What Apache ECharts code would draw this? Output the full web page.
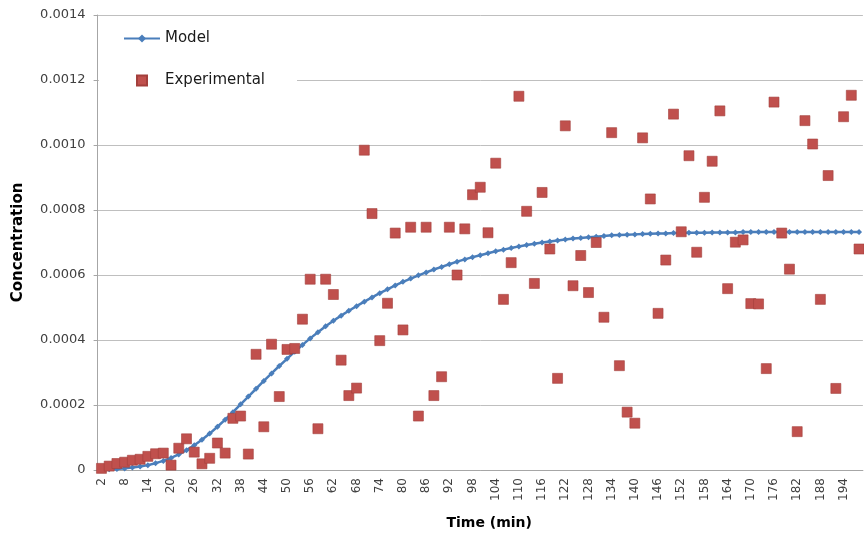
<!DOCTYPE html>
<html>
<head>
<meta charset="utf-8">
<script src="https://cdn.jsdelivr.net/npm/echarts@6/dist/echarts.min.js"></script>
<style>
  html, body { margin: 0; padding: 0; background: #ffffff; }
  #chart { width: 864px; height: 540px; }
</style>
</head>
<body>
<div id="chart"></div>
<script>
// Sampling times (min)
const timeMin = [
  2, 4, 6, 8, 10, 12, 14, 16, 18, 20, 22, 24, 26, 28, 30, 32, 34, 36, 38, 40,
  42, 44, 46, 48, 50, 52, 54, 56, 58, 60, 62, 64, 66, 68, 70, 72, 74, 76, 78, 80,
  82, 84, 86, 88, 90, 92, 94, 96, 98, 100, 102, 104, 106, 108, 110, 112, 114, 116, 118, 120,
  122, 124, 126, 128, 130, 132, 134, 136, 138, 140, 142, 144, 146, 148, 150, 152, 154, 156, 158, 160,
  162, 164, 166, 168, 170, 172, 174, 176, 178, 180, 182, 184, 186, 188, 190, 192, 194, 196, 198
];

// Fitted model concentration
const modelConc = [
  0.000001, 0.000002, 0.000003, 0.000005, 0.000008, 0.000011, 0.000015, 0.000021, 0.000028, 0.000037,
  0.000048, 0.000061, 0.000076, 0.000093, 0.000112, 0.000133, 0.000155, 0.000178, 0.000202, 0.000226,
  0.000250, 0.000274, 0.000297, 0.000320, 0.000342, 0.000364, 0.000385, 0.000405, 0.000424, 0.000442,
  0.000459, 0.000475, 0.000490, 0.000504, 0.000518, 0.000531, 0.000544, 0.000556, 0.000568, 0.000579,
  0.000589, 0.000599, 0.000608, 0.000617, 0.000625, 0.000633, 0.000641, 0.000648, 0.000655, 0.000661,
  0.000667, 0.000673, 0.000678, 0.000683, 0.000688, 0.000692, 0.000696, 0.000700, 0.000703, 0.000706,
  0.000709, 0.000712, 0.000714, 0.000716, 0.000718, 0.000720, 0.000722, 0.000723, 0.000724, 0.000725,
  0.000726, 0.000727, 0.000728, 0.000728, 0.000729, 0.000729, 0.000730, 0.000730, 0.000730, 0.000731,
  0.000731, 0.000731, 0.000731, 0.000732, 0.000732, 0.000732, 0.000732, 0.000732, 0.000732, 0.000732,
  0.000732, 0.000732, 0.000732, 0.000732, 0.000732, 0.000732, 0.000732, 0.000732, 0.000732
];

// Measured concentration
const expConc = [
  0.000005, 0.000012, 0.000020, 0.000024, 0.000030, 0.000033, 0.000042, 0.000050, 0.000052, 0.000015,
  0.000067, 0.000096, 0.000055, 0.000019, 0.000036, 0.000083, 0.000052, 0.000159, 0.000166, 0.000049,
  0.000356, 0.000133, 0.000387, 0.000226, 0.000371, 0.000374, 0.000464, 0.000587, 0.000127, 0.000587,
  0.000540, 0.000338, 0.000229, 0.000252, 0.000984, 0.000789, 0.000398, 0.000513, 0.000729, 0.000431,
  0.000747, 0.000166, 0.000747, 0.000229, 0.000287, 0.000747, 0.000600, 0.000742, 0.000847, 0.000870,
  0.000730, 0.000944, 0.000525, 0.000638, 0.001150, 0.000796, 0.000574, 0.000854, 0.000680, 0.000282,
  0.001059, 0.000567, 0.000660, 0.000546, 0.000700, 0.000470, 0.001038, 0.000321, 0.000178, 0.000144,
  0.001022, 0.000834, 0.000482, 0.000646, 0.001095, 0.000733, 0.000967, 0.000670, 0.000839, 0.000950,
  0.001105, 0.000558, 0.000701, 0.000708, 0.000512, 0.000511, 0.000312, 0.001132, 0.000729, 0.000618,
  0.000118, 0.001075, 0.001003, 0.000525, 0.000906, 0.000251, 0.001087, 0.001153, 0.000680
];

const FONT = 'DejaVu Sans';
const AXIS_GREY = '#A6A6A6';

const chart = echarts.init(document.getElementById('chart'), null, { renderer: 'canvas' });

chart.setOption({
  animation: false,
  backgroundColor: '#ffffff',
  grid: { left: 97.6, top: 15, width: 765.3, height: 455 },
  legend: {
    orient: 'vertical',
    left: 99,
    top: 17,
    padding: [14, 32, 6, 24],
    backgroundColor: '#ffffff',
    itemWidth: 36,
    itemHeight: 10,
    itemGap: 27,
    textStyle: { fontFamily: FONT, fontSize: 15, color: '#1a1a1a' },
    data: [
      { name: 'Model' },
      { name: 'Experimental', icon: 'path://M0,0L10,0L10,10L0,10Z' }
    ]
  },
  xAxis: {
    type: 'category',
    data: timeMin.map(String),
    boundaryGap: true,
    axisLine: { lineStyle: { color: AXIS_GREY, width: 1 } },
    axisTick: { interval: 0, length: 4, lineStyle: { color: AXIS_GREY } },
    axisLabel: {
      interval: 2, rotate: 90, margin: 8,
      fontFamily: FONT, fontSize: 12, color: '#404040'
    },
    splitLine: { show: false },
    name: 'Time (min)',
    nameLocation: 'middle',
    nameGap: 46,
    nameTextStyle: {
      fontFamily: FONT, fontSize: 14, fontWeight: 'bold', color: '#000000',
      padding: [0, 0, 0, 18]
    }
  },
  yAxis: {
    type: 'value',
    min: 0,
    max: 0.0014,
    interval: 0.0002,
    axisLine: { show: true, lineStyle: { color: AXIS_GREY, width: 1 } },
    axisTick: { show: true, length: 4, lineStyle: { color: AXIS_GREY } },
    axisLabel: {
      margin: 12, fontFamily: FONT, fontSize: 13, color: '#404040',
      formatter: v => (v === 0 ? '0' : v.toFixed(4))
    },
    splitLine: { lineStyle: { color: '#BFBFBF', width: 1 } },
    name: 'Concentration',
    nameLocation: 'middle',
    nameGap: 72,
    nameTextStyle: { fontFamily: FONT, fontSize: 15, fontWeight: 'bold', color: '#000000' }
  },
  series: [
    {
      name: 'Model',
      type: 'line',
      data: modelConc,
      symbol: 'diamond',
      symbolSize: 6,
      showSymbol: true,
      showAllSymbol: true,
      lineStyle: { color: '#4A7EBB', width: 2.5 },
      itemStyle: { color: '#4A7EBB' },
      z: 2
    },
    {
      name: 'Experimental',
      type: 'scatter',
      data: expConc.map((v, i) => [i, v]),
      symbol: 'rect',
      symbolSize: 10,
      itemStyle: { color: '#C0504D', borderColor: '#A33F3C', borderWidth: 0.6, opacity: 1 },
      z: 3
    }
  ]
});
</script>
</body>
</html>
